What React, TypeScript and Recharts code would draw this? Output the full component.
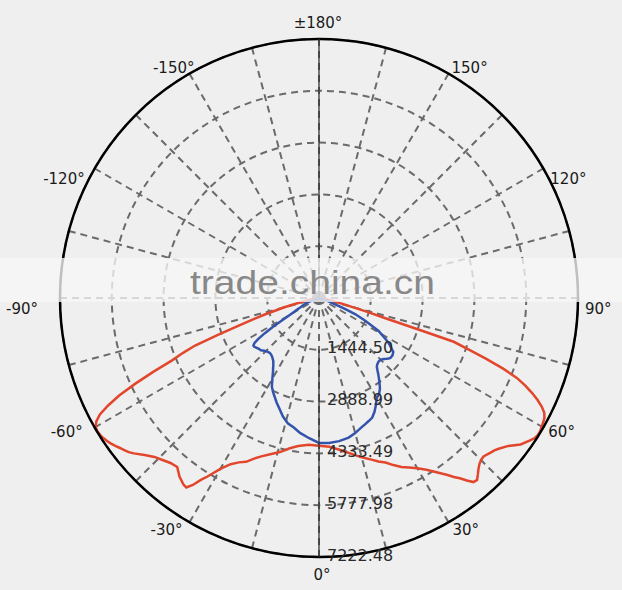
import React from 'react';
import { RadarChart, Radar, PolarGrid, PolarAngleAxis, PolarRadiusAxis } from 'recharts';

// Measurement angles (deg, 0 = nadir, negative = left, positive = right)
const angles = [
  -180, -90, -85, -80, -77, -75, -73, -72, -71, -70, -69, -68, -67, -66, -65, -64, -63, -62, -61, -60,
  -59, -58, -57, -56, -55, -54, -53, -52, -51, -50, -48, -46, -44, -42, -40, -38, -36, -35, -34, -33,
  -32, -30, -28, -26, -24, -22, -20, -17, -14, -11, -8, -4, 0,
  4, 8, 12, 15, 18, 20, 22, 24, 26, 28, 30, 32, 34, 36, 37, 38, 39, 40, 41, 42, 43, 44, 45, 46, 47, 48,
  49, 50, 52, 54, 56, 57, 58, 59, 60, 61, 62, 63, 64, 65, 66, 67, 68, 69, 70, 71, 72, 72.4, 73, 74, 76,
  80, 85, 90, 180,
];

// C0-C180 plane (red), cd
const redIntensity = [
  0, 0, 50, 250, 550, 1000, 1600, 1950, 2350, 3000, 3700, 4100, 4450, 5050, 5650, 6200, 6600, 6920, 7100, 7190,
  7210, 7200, 7170, 7130, 7080, 7020, 6950, 6890, 6830, 6740, 6545, 6380, 6280, 6190, 6150, 6320, 6430, 6450, 6290, 6050,
  5870, 5500, 5250, 5100, 5000, 4830, 4700, 4550, 4420, 4270, 4170, 4100, 4120,
  4160, 4280, 4450, 4600, 4740, 4850, 4950, 5100, 5240, 5350, 5480, 5650, 5860, 6100, 6250, 6380, 6550, 6700, 6720, 6620, 6520, 6440, 6390, 6370, 6400, 6440,
  6480, 6540, 6700, 6950, 7100, 7170, 7200, 7200, 7170, 7150, 7120, 7050, 6910, 6720, 6500, 6250, 5950, 5500, 4950, 4420, 3950, 2950, 2000, 1400, 700,
  250, 50, 0, 0,
];

// C90-C270 plane (blue), cd
const blueIntensity = [
  0, 0, 0, 0, 0, 50, 120, 150, 200, 250, 300, 350, 400, 450, 500, 540, 600, 700, 800, 920,
  1150, 1500, 1800, 2050, 2200, 2260, 2260, 2240, 2220, 2200, 2180, 2120, 2080, 2055, 2070, 2110, 2170, 2220, 2280, 2350,
  2420, 2600, 2800, 2920, 3030, 3150, 3260, 3450, 3600, 3680, 3800, 3920, 4040,
  4050, 4030, 3980, 3900, 3800, 3750, 3700, 3650, 3530, 3380, 3220, 3160, 3040, 2860, 2770, 2680, 2590, 2510, 2470, 2450, 2430, 2430, 2440, 2460, 2490, 2530,
  2570, 2600, 2600, 2560, 2400, 2320, 2220, 2100, 2000, 1900, 1720, 1550, 1400, 1250, 1100, 800, 600, 450, 350, 250, 180, 150, 120, 80, 30,
  0, 0, 0, 0,
];

const angleTicks = [
  -165, -150, -135, -120, -105, -90, -75, -60, -45, -30, -15, 0,
  15, 30, 45, 60, 75, 90, 105, 120, 135, 150, 165, 180,
];
const labeledAngles = [180, -150, 150, -120, 120, -90, 90, -60, 60, -30, 30, 0];
const angleLabelTexts = ['±180°', '-150°', '150°', '-120°', '120°', '-90°', '90°', '-60°', '60°', '-30°', '30°', '0°'];

const radiusTicks = [1444.5, 2888.99, 4333.49, 5777.98, 7222.48];
const maxIntensity = 7222.48;

const data = angles.map((a, i) => ({ angle: a, c0: redIntensity[i], c90: blueIntensity[i] }));

const OUTER_R = 259;

const labelOffsets: Record<number, [number, number, number]> = {
  30: [-7, 4, 8],
  60: [-12, 5, 4],
  90: [-22, 7, 11],
  120: [-10, 7, 10],
  150: [5, 3, -6],
};

const renderAngleTick = (props: any) => {
  const { x, y, payload } = props;
  const v = Number(payload.value);
  const idx = labeledAngles.indexOf(v);
  if (idx < 0) return <g />;
  const rad = (v * Math.PI) / 180;
  const px = x - 8 * Math.sin(rad);
  const py = y - 8 * Math.cos(rad);
  const a = Math.abs(v);
  let anchor = 'middle';
  let dx = 0;
  let dy = 0;
  if (a === 0) {
    dx = 3;
    dy = 18;
  } else if (a === 180) {
    dx = -1;
    dy = -16;
  } else {
    const t = labelOffsets[a];
    const right = v > 0;
    anchor = right ? 'start' : 'end';
    dx = right ? t[1] : t[0];
    dy = t[2];
  }
  return (
    <g>
      {a === 180 ? (
        <line x1={px} y1={py} x2={px} y2={py + OUTER_R} stroke="#333" strokeWidth={1.3} />
      ) : null}
      <text
        x={px + dx}
        y={py + dy}
        textAnchor={anchor as any}
        dominantBaseline="central"
        fontFamily="DejaVu Sans"
        fontSize={15}
        fill="#1a1a1a"
      >
        {angleLabelTexts[idx]}
      </text>
    </g>
  );
};

const renderRadiusTick = (props: any) => {
  const { x, y, payload } = props;
  return (
    <text
      x={x + 8}
      y={y - 2}
      dominantBaseline="central"
      textAnchor="start"
      fontFamily="DejaVu Sans"
      fontSize={16}
      fill="#2a2a2a"
    >
      {Number(payload.value).toFixed(2)}
    </text>
  );
};

export default function App() {
  return (
    <div style={{ position: 'absolute', left: 0, top: 0, width: 622, height: 590, background: '#efefef', overflow: 'hidden' }}>
      <RadarChart
        width={622}
        height={590}
        data={data}
        cx={319}
        cy={298}
        outerRadius={OUTER_R}
        startAngle={-270}
        endAngle={90}
        margin={{ top: 0, right: 0, bottom: 0, left: 0 }}
      >
        <PolarGrid gridType="circle" stroke="#6a6a6a" strokeWidth={2} strokeDasharray="7 5" />
        <PolarAngleAxis
          dataKey="angle"
          type="number"
          domain={[-180, 180]}
          ticks={angleTicks}
          tick={renderAngleTick}
          tickLine={false}
          axisLineType="circle"
          axisLine={{ stroke: '#000', strokeWidth: 2.5 }}
        />
        <PolarRadiusAxis
          angle={-90}
          type="number"
          domain={[0, maxIntensity]}
          ticks={radiusTicks}
          tick={renderRadiusTick}
          tickLine={false}
          axisLine={{ stroke: '#333', strokeWidth: 1.3 }}
        />
        <Radar dataKey="c0" stroke="#e2462c" strokeWidth={2.5} fill="none" fillOpacity={0} dot={false} isAnimationActive={false} />
        <Radar dataKey="c90" stroke="#3453ad" strokeWidth={2.5} fill="none" fillOpacity={0} dot={false} isAnimationActive={false} />
      </RadarChart>
      <svg width={622} height={590} style={{ position: 'absolute', left: 0, top: 0, pointerEvents: 'none' }}>
        <rect x={0} y={258} width={622} height={44} fill="#f6f6f6" fillOpacity={0.78} />
        <text x={190} y={294} fontFamily="Liberation Sans" fontSize={34} fill="#888888" textLength={245} lengthAdjust="spacingAndGlyphs">
          trade.china.cn
        </text>
      </svg>
    </div>
  );
}
